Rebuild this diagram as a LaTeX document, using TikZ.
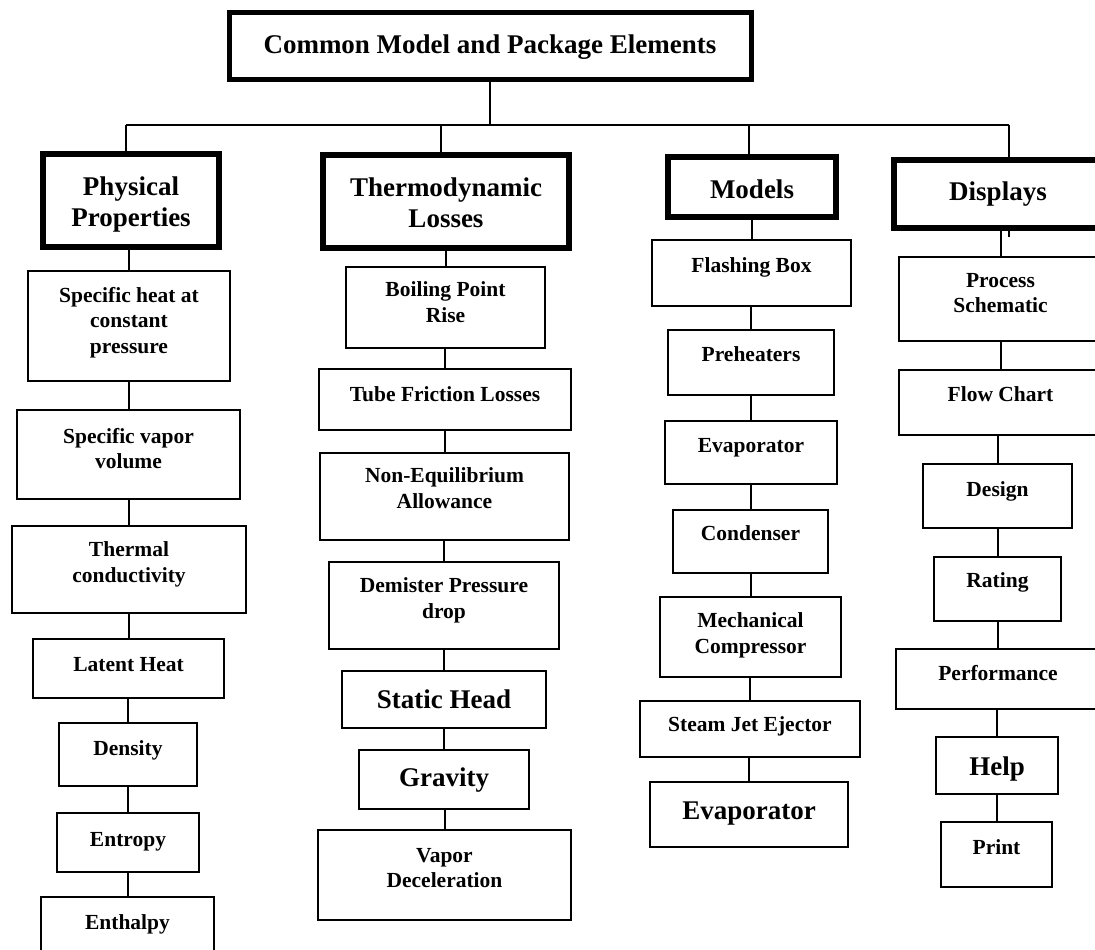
\documentclass[tikz,border=0pt]{standalone}
\usepackage{fontspec}
\setmainfont{Liberation Serif}
\tikzset{
  conn/.style={line width=2pt, black},
  thin box/.style={draw, line width=2.6pt, font=\fontsize{21.5}{25.5}\selectfont\bfseries},
  thinbig/.style={draw, line width=2.6pt, font=\fontsize{27}{30.5}\selectfont\bfseries},
  thick box/.style={draw, line width=6pt, font=\fontsize{27}{30.5}\selectfont\bfseries},
  title box/.style={draw, line width=5pt, font=\fontsize{27}{30.5}\selectfont\bfseries},
}
% #1 style, #2 name, #3 x1, #4 y1, #5 x2, #6 y2, #7 top pad, #8 text
\newcommand\drawbox[8]{%
  \node[#1, anchor=north west, inner sep=0pt, outer sep=0pt] (#2) at (#3,#4)
  {\parbox[c][\dimexpr #6pt-#4pt\relax][t]{\dimexpr #5pt-#3pt\relax}{\centering\vspace*{#7pt}#8\par}};}
\begin{document}
\begin{tikzpicture}[x=1pt,y=-1pt]
\clip (0,0) rectangle (1095,950);
\fill[white] (0,0) rectangle (1095,950);

% title
\drawbox{title box}{title}{229}{13}{751}{80}{22}{Common Model and Package Elements}

% headers
\drawbox{thick box}{phys}{43}{154}{219}{247}{23}{Physical\\Properties}
\drawbox{thick box}{thermo}{323}{155}{569}{248}{23}{Thermodynamic\\Losses}
\drawbox{thick box}{models}{668}{157}{836}{217}{23}{Models}
\drawbox{thick box}{disp}{894}{160}{1102}{228}{22}{Displays}

% physical properties column
\drawbox{thin box}{sh}{28}{271}{230}{381}{16}{Specific heat at\\constant\\pressure}
\drawbox{thin box}{sv}{17}{410}{240}{499}{18}{Specific vapor\\volume}
\drawbox{thin box}{tc}{12}{526}{246}{613}{16}{Thermal\\conductivity}
\drawbox{thin box}{lh}{33}{639}{224}{698}{18}{Latent Heat}
\drawbox{thin box}{de}{59}{723}{197}{786}{18}{Density}
\drawbox{thin box}{en}{57}{813}{199}{872}{19}{Entropy}
\drawbox{thin box}{eh}{41}{897}{214}{965}{18}{Enthalpy}

% thermodynamic losses column
\drawbox{thin box}{bp}{346}{267}{545}{348}{15}{Boiling Point\\Rise}
\drawbox{thin box}{tf}{319}{369}{571}{430}{18}{Tube Friction Losses}
\drawbox{thin box}{ne}{320}{453}{569}{540}{15}{Non-Equilibrium\\Allowance}
\drawbox{thin box}{dp}{329}{562}{559}{649}{16}{Demister Pressure\\drop}
\drawbox{thinbig}{sth}{342}{671}{546}{728}{19}{Static Head}
\drawbox{thinbig}{gr}{359}{750}{529}{809}{18}{Gravity}
\drawbox{thin box}{vd}{318}{830}{571}{920}{18}{Vapor\\Deceleration}

% models column
\drawbox{thin box}{fb}{652}{240}{851}{306}{18}{Flashing Box}
\drawbox{thin box}{ph}{668}{330}{834}{395}{17}{Preheaters}
\drawbox{thin box}{ev}{665}{421}{837}{484}{17}{Evaporator}
\drawbox{thin box}{co}{673}{510}{828}{573}{16}{Condenser}
\drawbox{thin box}{mc}{660}{597}{841}{677}{16}{Mechanical\\Compressor}
\drawbox{thin box}{sj}{640}{701}{860}{757}{16}{Steam Jet Ejector}
\drawbox{thinbig}{evb}{650}{782}{848}{847}{20}{Evaporator}

% displays column
\drawbox{thin box}{ps}{899}{257}{1102}{341}{16}{Process\\Schematic}
\drawbox{thin box}{fc}{899}{370}{1102}{435}{17}{Flow Chart}
\drawbox{thin box}{dg}{923}{464}{1072}{528}{18}{Design}
\drawbox{thin box}{ra}{934}{557}{1061}{621}{16}{Rating}
\drawbox{thin box}{pf}{896}{649}{1100}{709}{16}{Performance}
\drawbox{thinbig}{hp}{936}{737}{1058}{794}{20}{Help}
\drawbox{thin box}{pr}{941}{822}{1052}{887}{18}{Print}

% bus
\coordinate (bL) at (126,125);
\coordinate (bT) at (441,125);
\coordinate (bM) at (749,125);
\coordinate (bR) at (1009,125);
\draw[conn] (title.south) -- (title.south |- bL);
\draw[conn] (bL) -- (bR);
\draw[conn] (bL) -- (bL |- phys.north);
\draw[conn] (bT) -- (bT |- thermo.north);
\draw[conn] (bM) -- (bM |- models.north);
\draw[conn] (bR) -- (bR |- disp.north);
\draw[conn] (disp.south -| bR) -- ++(0,9);

% column connectors
\foreach \p/\c in {phys/sh, sh/sv, sv/tc, tc/lh, lh/de, de/en, en/eh,
                   thermo/bp, bp/tf, tf/ne, ne/dp, dp/sth, sth/gr, gr/vd,
                   models/fb, fb/ph, ph/ev, ev/co, co/mc, mc/sj, sj/evb,
                   disp/ps, ps/fc, fc/dg, dg/ra, ra/pf, pf/hp, hp/pr}
  \draw[conn] (\c.north |- \p.south) -- (\c.north);
\end{tikzpicture}
\end{document}
